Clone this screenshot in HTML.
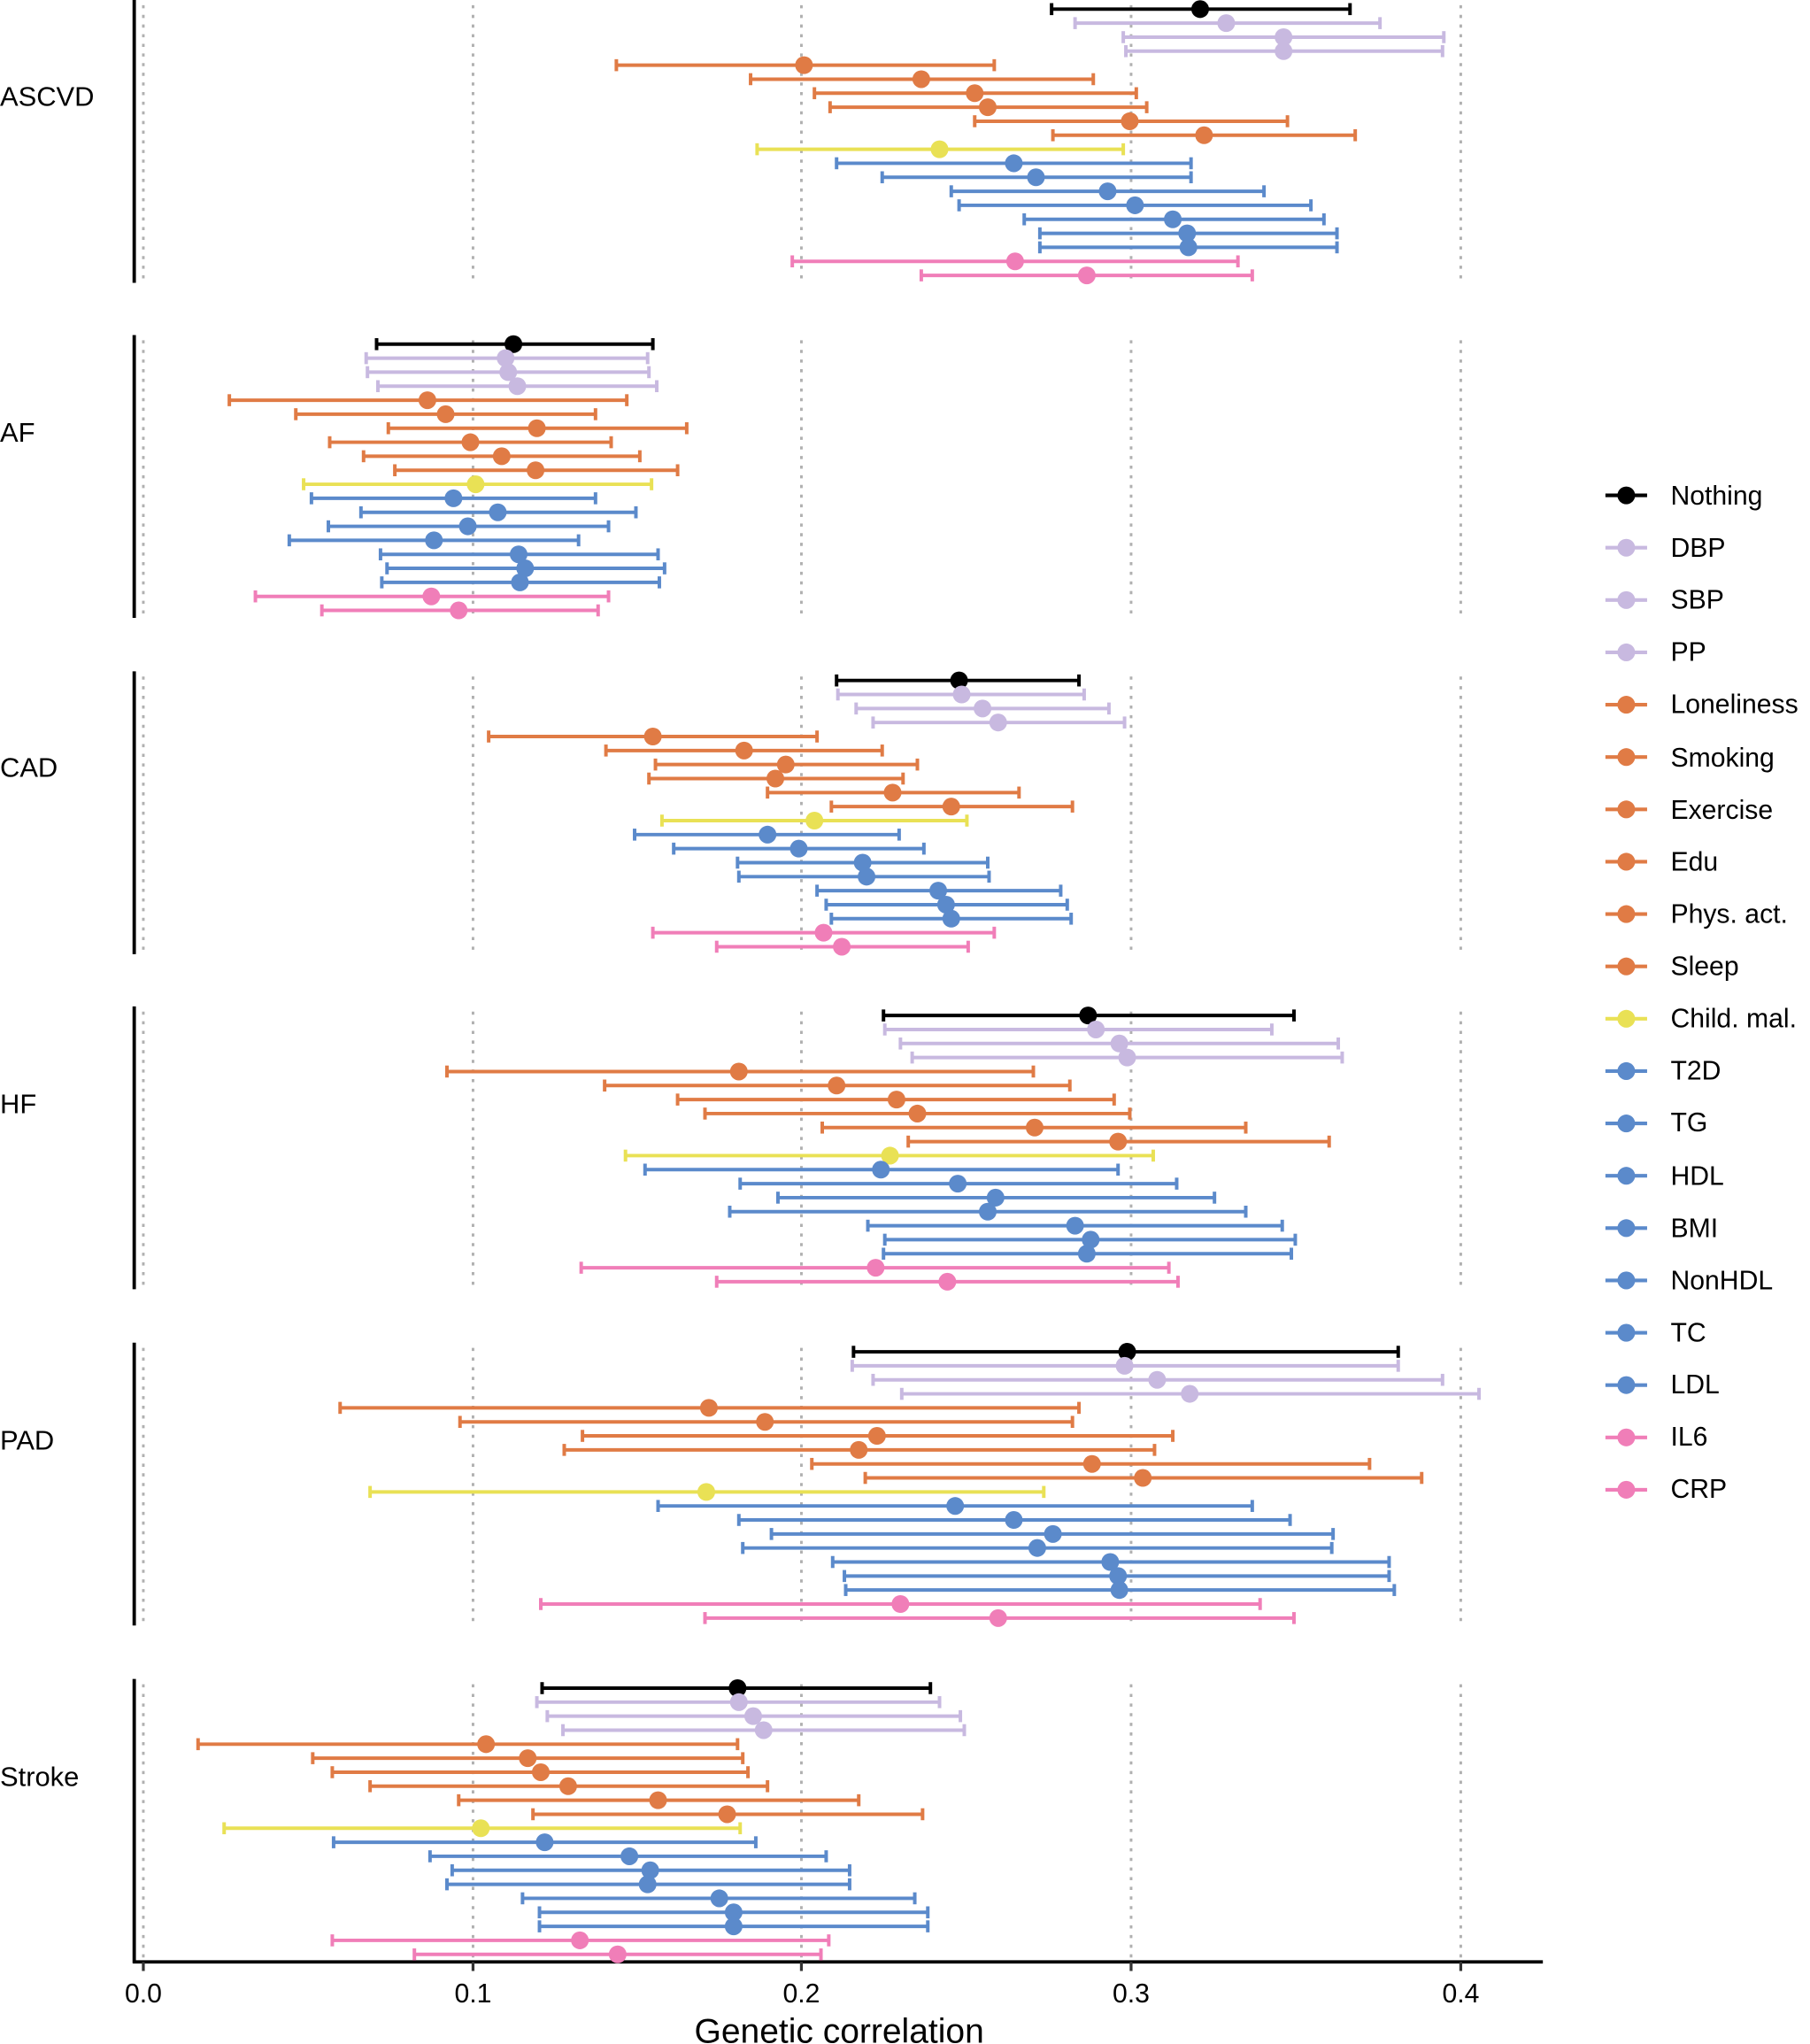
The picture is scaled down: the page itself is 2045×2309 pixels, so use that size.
<!DOCTYPE html>
<html><head><meta charset="utf-8"><style>
html,body{margin:0;padding:0;background:#fff;}
svg{display:block;font-family:"Liberation Sans",Arial,sans-serif;}
</style></head><body>
<svg id="s" width="2045" height="2309" viewBox="0 0 1389 1568" preserveAspectRatio="none" xmlns="http://www.w3.org/2000/svg">
<g id="grid"></g>
<g id="data"></g>
<g font-size="21" fill="#000">
<text x="0" y="81">ASCVD</text>
<text x="0" y="339">AF</text>
<text x="0" y="596">CAD</text>
<text x="0" y="854">HF</text>
<text x="0" y="1112">PAD</text>
<text x="0" y="1370">Stroke</text>
</g>
<g font-size="20.5" fill="#000" text-anchor="middle">
<text x="110" y="1536">0.0</text>
<text x="363" y="1536">0.1</text>
<text x="615" y="1536">0.2</text>
<text x="868" y="1536">0.3</text>
<text x="1121" y="1536">0.4</text>
</g>
<text x="644" y="1567" font-size="26.5" text-anchor="middle">Genetic correlation</text>
<g id="leg"></g>
<g font-size="20.5" fill="#000">
<text x="1282" y="387">Nothing</text>
<text x="1282" y="427">DBP</text>
<text x="1282" y="467">SBP</text>
<text x="1282" y="507">PP</text>
<text x="1282" y="547">Loneliness</text>
<text x="1282" y="588">Smoking</text>
<text x="1282" y="628">Exercise</text>
<text x="1282" y="668">Edu</text>
<text x="1282" y="708">Phys. act.</text>
<text x="1282" y="748">Sleep</text>
<text x="1282" y="788">Child. mal.</text>
<text x="1282" y="828">T2D</text>
<text x="1282" y="868">TG</text>
<text x="1282" y="909">HDL</text>
<text x="1282" y="949">BMI</text>
<text x="1282" y="989">NonHDL</text>
<text x="1282" y="1029">TC</text>
<text x="1282" y="1069">LDL</text>
<text x="1282" y="1109">IL6</text>
<text x="1282" y="1149">CRP</text>
</g>
</svg>
<script>
var NS="http://www.w3.org/2000/svg";
function el(p,t,a){var e=document.createElementNS(NS,t);for(var k in a)e.setAttribute(k,a[k]);p.appendChild(e);return e;}
var K="#000",L="#c8b9e0",O="#e07b45",Y="#e9e155",B="#5b8acb",P="#f07eb8";
var cols=[K,L,L,L,O,O,O,O,O,O,Y,B,B,B,B,B,B,B,P,P];
var D=[
[[921,807,1036],[941,825,1059],[985,862,1108],[985,864,1107],[617,473,763],[707,576,839],[748,625,872],[758,637,880],[867,748,988],[924,808,1040],[721,581,862],[778,642,914],[795,677,914],[850,730,970],[871,736,1006],[900,786,1016],[911,798,1026],[912,798,1026],[779,608,950],[834,707,961]],
[[394,289,501],[388,281,497],[390,282,498],[397,290,504],[328,176,481],[342,227,457],[412,298,527],[361,253,469],[385,279,491],[411,303,520],[365,233,500],[348,239,457],[382,277,488],[359,252,467],[333,222,444],[398,292,505],[403,297,510],[399,293,506],[331,196,467],[352,247,459]],
[[736,642,828],[738,643,832],[754,657,851],[766,670,863],[501,375,627],[571,465,677],[603,503,704],[595,498,693],[685,589,782],[730,638,823],[625,508,742],[589,487,690],[613,517,709],[662,566,758],[665,567,759],[720,627,814],[726,634,819],[730,638,822],[632,501,763],[646,550,743]],
[[835,678,993],[841,679,976],[859,691,1027],[865,700,1030],[567,343,793],[642,464,821],[688,520,855],[704,541,867],[794,631,956],[858,697,1020],[683,480,885],[676,495,858],[735,568,903],[764,597,932],[758,560,956],[825,666,984],[837,679,994],[834,678,991],[672,446,897],[727,550,904]],
[[865,655,1073],[863,654,1073],[888,670,1107],[913,692,1135],[544,261,828],[587,353,823],[673,447,900],[659,433,886],[838,623,1051],[877,664,1091],[542,284,801],[733,505,961],[778,567,990],[808,592,1023],[796,570,1022],[852,639,1066],[858,648,1066],[859,649,1070],[691,415,967],[766,541,993]],
[[566,416,714],[567,412,721],[578,420,737],[586,432,740],[373,152,566],[405,240,570],[415,255,574],[436,284,589],[505,352,659],[558,409,708],[369,172,568],[418,256,580],[483,330,634],[499,347,652],[497,343,652],[552,401,702],[563,414,712],[563,414,712],[445,255,636],[474,318,630]]];
var tops=[7,264,522,779,1037,1295];
var g=document.getElementById("grid"),d=document.getElementById("data");
tops.forEach(function(t0,p){
  [110,363,615,868,1121].forEach(function(x){el(g,"line",{x1:x,x2:x,y1:t0-3,y2:t0+207,stroke:"#b0b0b0","stroke-width":2,"stroke-dasharray":"2.4 5"});});
  var yb=p==5?1506:t0+210;
  el(g,"line",{x1:103,x2:103,y1:t0-7,y2:yb,stroke:"#000","stroke-width":2.6});
  D[p].forEach(function(r,i){
    var y=t0+i*10.75,c=cols[i];
    el(d,"line",{x1:r[1],x2:r[2],y1:y,y2:y,stroke:c,"stroke-width":2.7});
    el(d,"line",{x1:r[1],x2:r[1],y1:y-4.6,y2:y+4.6,stroke:c,"stroke-width":2.7});
    el(d,"line",{x1:r[2],x2:r[2],y1:y-4.6,y2:y+4.6,stroke:c,"stroke-width":2.7});
    el(d,"circle",{cx:r[0],cy:y,r:6.8,fill:c});
  });
});
el(g,"line",{x1:102,x2:1184,y1:1505,y2:1505,stroke:"#000","stroke-width":2.6});
[110,363,615,868,1121].forEach(function(x){el(g,"line",{x1:x,x2:x,y1:1505,y2:1512,stroke:"#333","stroke-width":2.2});});
var lg=document.getElementById("leg");
cols.forEach(function(c,i){var y=380+i*40.15;
  el(lg,"line",{x1:1232,x2:1264,y1:y,y2:y,stroke:c,"stroke-width":2.8});
  el(lg,"circle",{cx:1248,cy:y,r:6.8,fill:c});});
</script>
</body></html>
